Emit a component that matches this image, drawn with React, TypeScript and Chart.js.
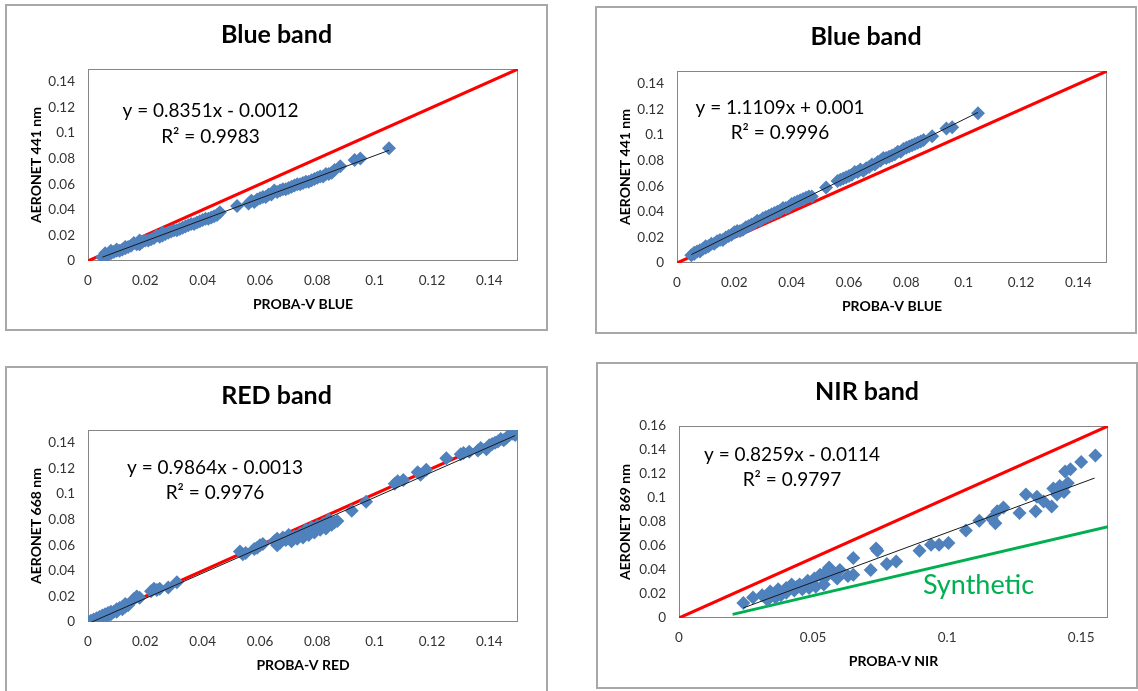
import React, { useEffect, useRef } from 'react';
import { Chart, registerables } from 'chart.js';
Chart.register(...registerables);

// ---------------- DATA ----------------
const panelTitles = ['Blue band', 'Blue band', 'RED band', 'NIR band'];
const yAxisTitles = ['AERONET 441 nm', 'AERONET 441 nm', 'AERONET 668 nm', 'AERONET 869 nm'];
const xAxisTitles = ['PROBA-V BLUE', 'PROBA-V BLUE', 'PROBA-V RED', 'PROBA-V NIR'];
const equationLines = [
  ['y = 0.8351x - 0.0012', 'R² = 0.9983'],
  ['y = 1.1109x + 0.001', 'R² = 0.9996'],
  ['y = 0.9864x - 0.0013', 'R² = 0.9976'],
  ['y = 0.8259x - 0.0114', 'R² = 0.9797'],
];
const axisMax = [0.15, 0.15, 0.15, 0.16];
const xStep = [0.02, 0.02, 0.02, 0.05];
const yStep = [0.02, 0.02, 0.02, 0.02];

// trend line: slope, intercept, x range
const fitSlope = [0.8351, 1.1109, 0.9864, 0.8259];
const fitIntercept = [-0.0012, 0.001, -0.0013, -0.0114];
const fitXMin = [0.005, 0.005, 0.001, 0.024];
const fitXMax = [0.105, 0.105, 0.149, 0.155];

const blue1Points = [
  [0.005, 0.003], [0.006, 0.004], [0.006, 0.006], [0.007, 0.005], [0.008, 0.006], [0.008, 0.008], [0.009, 0.007],
  [0.010, 0.008], [0.010, 0.009], [0.011, 0.008], [0.012, 0.009], [0.013, 0.011], [0.013, 0.010], [0.014, 0.011],
  [0.015, 0.012], [0.016, 0.014], [0.017, 0.013], [0.018, 0.013], [0.018, 0.016], [0.019, 0.015], [0.020, 0.016],
  [0.021, 0.016], [0.022, 0.017], [0.023, 0.018], [0.024, 0.020], [0.025, 0.019], [0.026, 0.022], [0.026, 0.020],
  [0.027, 0.021], [0.028, 0.022], [0.029, 0.023], [0.030, 0.024], [0.031, 0.024], [0.032, 0.025], [0.033, 0.026],
  [0.034, 0.027], [0.035, 0.028], [0.036, 0.029], [0.037, 0.029], [0.038, 0.030], [0.039, 0.031], [0.040, 0.032],
  [0.041, 0.033], [0.042, 0.033], [0.043, 0.034], [0.044, 0.035], [0.045, 0.036], [0.046, 0.038], [0.052, 0.043],
  [0.056, 0.045], [0.057, 0.047], [0.058, 0.046], [0.059, 0.048], [0.060, 0.049], [0.061, 0.050], [0.062, 0.050],
  [0.063, 0.052], [0.064, 0.052], [0.065, 0.055], [0.066, 0.054], [0.067, 0.055], [0.068, 0.056], [0.069, 0.056],
  [0.070, 0.057], [0.071, 0.058], [0.072, 0.059], [0.073, 0.060], [0.074, 0.060], [0.075, 0.061], [0.076, 0.062],
  [0.077, 0.062], [0.078, 0.063], [0.079, 0.064], [0.080, 0.065], [0.081, 0.066], [0.082, 0.066], [0.083, 0.068],
  [0.084, 0.068], [0.085, 0.069], [0.086, 0.071], [0.088, 0.074], [0.093, 0.079], [0.095, 0.080], [0.105, 0.088],
];

const blue2Points = [
  [0.005, 0.006], [0.006, 0.008], [0.006, 0.007], [0.007, 0.009], [0.008, 0.009], [0.008, 0.010], [0.009, 0.011],
  [0.010, 0.012], [0.010, 0.013], [0.011, 0.013], [0.012, 0.015], [0.013, 0.015], [0.014, 0.017], [0.015, 0.018],
  [0.016, 0.018], [0.017, 0.020], [0.018, 0.021], [0.019, 0.022], [0.020, 0.024], [0.021, 0.025], [0.022, 0.025],
  [0.023, 0.026], [0.024, 0.028], [0.025, 0.029], [0.026, 0.030], [0.027, 0.031], [0.028, 0.033], [0.029, 0.033],
  [0.030, 0.035], [0.031, 0.036], [0.032, 0.037], [0.033, 0.038], [0.034, 0.039], [0.035, 0.040], [0.036, 0.041],
  [0.037, 0.043], [0.038, 0.043], [0.039, 0.044], [0.040, 0.046], [0.041, 0.047], [0.042, 0.048], [0.043, 0.049],
  [0.044, 0.050], [0.045, 0.051], [0.046, 0.052], [0.047, 0.052], [0.052, 0.059], [0.056, 0.064], [0.057, 0.065],
  [0.058, 0.066], [0.059, 0.067], [0.060, 0.068], [0.061, 0.069], [0.062, 0.071], [0.063, 0.071], [0.064, 0.073],
  [0.065, 0.072], [0.066, 0.074], [0.067, 0.075], [0.068, 0.077], [0.069, 0.077], [0.070, 0.079], [0.071, 0.080],
  [0.072, 0.082], [0.073, 0.082], [0.074, 0.083], [0.075, 0.084], [0.076, 0.085], [0.077, 0.087], [0.078, 0.087],
  [0.079, 0.089], [0.080, 0.090], [0.081, 0.091], [0.082, 0.092], [0.083, 0.093], [0.084, 0.094], [0.085, 0.095],
  [0.086, 0.096], [0.089, 0.099], [0.094, 0.105], [0.096, 0.106], [0.105, 0.117],
];

const redPoints = [
  [0.001, 0.001], [0.002, 0.002], [0.002, 0.000], [0.003, 0.003], [0.003, 0.001], [0.004, 0.004], [0.004, 0.002],
  [0.005, 0.005], [0.005, 0.003], [0.006, 0.006], [0.006, 0.004], [0.007, 0.007], [0.007, 0.005], [0.008, 0.008],
  [0.008, 0.006], [0.009, 0.008], [0.010, 0.010], [0.010, 0.008], [0.011, 0.011], [0.012, 0.012], [0.012, 0.010],
  [0.013, 0.014], [0.013, 0.012], [0.014, 0.013], [0.016, 0.018], [0.017, 0.020], [0.018, 0.019], [0.022, 0.024],
  [0.023, 0.026], [0.024, 0.025], [0.025, 0.026], [0.028, 0.027], [0.031, 0.031], [0.053, 0.055], [0.054, 0.053],
  [0.055, 0.054], [0.058, 0.057], [0.059, 0.058], [0.060, 0.060], [0.061, 0.061], [0.065, 0.063], [0.066, 0.060],
  [0.066, 0.065], [0.067, 0.062], [0.068, 0.066], [0.069, 0.064], [0.070, 0.068], [0.071, 0.063], [0.072, 0.067],
  [0.073, 0.065], [0.074, 0.069], [0.075, 0.066], [0.076, 0.072], [0.077, 0.068], [0.078, 0.074], [0.079, 0.070],
  [0.080, 0.075], [0.081, 0.072], [0.082, 0.077], [0.083, 0.073], [0.084, 0.080], [0.085, 0.076], [0.086, 0.078],
  [0.087, 0.079], [0.092, 0.087], [0.097, 0.094], [0.107, 0.108], [0.108, 0.110], [0.110, 0.111], [0.115, 0.117],
  [0.116, 0.115], [0.118, 0.119], [0.125, 0.128], [0.130, 0.131], [0.131, 0.132], [0.133, 0.133], [0.136, 0.134],
  [0.137, 0.136], [0.139, 0.135], [0.140, 0.138], [0.141, 0.139], [0.142, 0.140], [0.143, 0.141], [0.144, 0.143],
  [0.145, 0.142], [0.146, 0.144], [0.147, 0.146], [0.148, 0.147], [0.149, 0.146],
];

const nirPoints = [
  [0.024, 0.0125], [0.0276, 0.017], [0.031, 0.019], [0.033, 0.015], [0.034, 0.022], [0.036, 0.017], [0.037, 0.024],
  [0.038, 0.019], [0.039, 0.022], [0.040, 0.025], [0.040, 0.021], [0.042, 0.028], [0.043, 0.023], [0.044, 0.026],
  [0.045, 0.028], [0.046, 0.024], [0.048, 0.031], [0.0485, 0.025], [0.049, 0.0285], [0.0505, 0.033], [0.051, 0.026],
  [0.0526, 0.036], [0.0546, 0.034], [0.054, 0.028], [0.055, 0.039], [0.056, 0.042], [0.057, 0.0375], [0.059, 0.033],
  [0.060, 0.040], [0.063, 0.035], [0.065, 0.050], [0.065, 0.036], [0.0715, 0.040], [0.0735, 0.058], [0.074, 0.056],
  [0.0775, 0.045], [0.081, 0.047], [0.0897, 0.056], [0.094, 0.061], [0.097, 0.061], [0.1005, 0.0625], [0.107, 0.073],
  [0.112, 0.081], [0.1166, 0.083], [0.118, 0.079], [0.1187, 0.089], [0.121, 0.092], [0.127, 0.0875], [0.1294, 0.103],
  [0.133, 0.089], [0.1335, 0.101], [0.136, 0.097], [0.139, 0.093], [0.1396, 0.108], [0.141, 0.103], [0.142, 0.110],
  [0.1436, 0.105], [0.144, 0.122], [0.145, 0.1125], [0.146, 0.124], [0.150, 0.130], [0.1553, 0.1355],
];

const syntheticLine = [[0.02, 0.003], [0.16, 0.076]];

const pointSets = [blue1Points, blue2Points, redPoints, nirPoints];

// ---------------- LAYOUT (page pixels) ----------------
const layouts = [
  { box: [5, 4, 543, 327], plot: [88, 69, 518, 261], titleY: 43, eqX: 210.5, eqY: [117, 143], yTitleX: 36, xTitleY: 304 },
  { box: [595, 6, 542, 328], plot: [677, 71, 1107, 263], titleY: 45, eqX: 780, eqY: [114, 139], yTitleX: 625, xTitleY: 306 },
  { box: [5, 366, 543, 340], plot: [88, 430, 518, 622], titleY: 404, eqX: 215, eqY: [474, 499], yTitleX: 36, xTitleY: 665 },
  { box: [596, 362, 542, 327], plot: [679, 426, 1108, 618], titleY: 400, eqX: 792, eqY: [461, 486], yTitleX: 625, xTitleY: 661, synth: [978.5, 594] },
];

const FONT = "Lato, 'Open Sans', sans-serif";
const TICK_COLOR = '#333333';
const BLUE = '#4f81bd';

const fmt = (v: number) => String(Number(Number(v).toFixed(3)));

function Panel({ idx }: { idx: number }) {
  const ref = useRef<HTMLCanvasElement>(null);
  const L = layouts[idx];
  const [bx, by, bw, bh] = L.box;

  useEffect(() => {
    const canvas = ref.current;
    if (!canvas) return;
    const [pl, pt, pr, pb] = L.plot;
    const max = axisMax[idx];
    const pts = pointSets[idx].map(([x, y]) => ({ x, y }));
    const trend = [fitXMin[idx], fitXMax[idx]].map((x) => ({ x, y: fitSlope[idx] * x + fitIntercept[idx] }));
    const oneToOne = [{ x: 0, y: 0 }, { x: max, y: max }];

    const datasets: any[] = [
      { label: 'trend', data: trend, showLine: true, borderColor: '#1a1a1a', borderWidth: 1, pointRadius: 0, fill: false },
      {
        label: 'obs', data: pts, pointStyle: 'rectRot', pointRadius: 7, pointHoverRadius: 7,
        backgroundColor: BLUE, borderColor: BLUE, borderWidth: 0, showLine: false,
      },
      { label: '1:1', data: oneToOne, showLine: true, borderColor: '#ff0000', borderWidth: 3, pointRadius: 0, fill: false },
    ];
    if (L.synth) {
      datasets.push({
        label: 'Synthetic', data: syntheticLine.map(([x, y]) => ({ x, y })), showLine: true,
        borderColor: '#00b050', borderWidth: 3, pointRadius: 0, fill: false,
      });
    }

    const decor = {
      id: 'decor' + idx,
      beforeDatasetsDraw(chart: any) {
        const { ctx, chartArea } = chart;
        const { left, top, right, bottom } = chartArea;
        ctx.save();
        ctx.strokeStyle = '#868686';
        ctx.lineWidth = 1;
        ctx.strokeRect(Math.round(left) + 0.5, Math.round(top) + 0.5, Math.round(right - left) - 1, Math.round(bottom - top) - 1);
        ctx.restore();
      },
      afterDraw(chart: any) {
        const ctx = chart.ctx;
        ctx.save();
        ctx.fillStyle = '#000';
        ctx.textAlign = 'center';
        ctx.textBaseline = 'alphabetic';
        ctx.font = `bold 25px ${FONT}`;
        ctx.fillText(panelTitles[idx], bw / 2, L.titleY - by);
        ctx.font = `19px ${FONT}`;
        ctx.fillText(equationLines[idx][0], L.eqX - bx, L.eqY[0] - by);
        ctx.fillText(equationLines[idx][1], L.eqX - bx, L.eqY[1] - by);
        if (L.synth) {
          ctx.fillStyle = '#00b050';
          ctx.font = `27px ${FONT}`;
          ctx.fillText('Synthetic', L.synth[0] - bx, L.synth[1] - by);
        }
        ctx.restore();
      },
    };

    const yW = pl - bx;
    const xH = by + bh - pb;
    const lh = 14 * 1.2;

    const chart = new Chart(canvas, {
      type: 'scatter',
      data: { datasets },
      options: {
        animation: false,
        responsive: false,
        events: [],
        layout: { padding: { left: 0, top: pt - by, right: bx + bw - pr, bottom: 0 } },
        plugins: { legend: { display: false }, tooltip: { enabled: false }, title: { display: false } },
        scales: {
          x: {
            type: 'linear', min: 0, max,
            grid: { display: false, drawTicks: false },
            border: { display: false },
            ticks: { stepSize: xStep[idx], includeBounds: false, padding: 12, color: TICK_COLOR, font: { family: FONT, size: 13.5 }, callback: (v: any) => fmt(v), maxRotation: 0 },
            title: {
              display: true, text: xAxisTitles[idx], color: '#000',
              font: { family: FONT, size: 14, weight: 'bold' },
              padding: { top: 0, bottom: (by + bh - L.xTitleY) - lh / 2 },
            },
            afterFit: (s: any) => { s.height = xH; },
          },
          y: {
            type: 'linear', min: 0, max,
            grid: { display: false, drawTicks: false },
            border: { display: false },
            ticks: { stepSize: yStep[idx], includeBounds: false, padding: 13, color: TICK_COLOR, font: { family: FONT, size: 13.5 }, callback: (v: any) => fmt(v) },
            title: {
              display: true, text: yAxisTitles[idx], color: '#000',
              font: { family: FONT, size: 14, weight: 'bold' },
              padding: { top: (L.yTitleX - bx) - lh / 2, bottom: 0 },
            },
            afterFit: (s: any) => { s.width = yW; },
          },
        },
      } as any,
      plugins: [decor],
    });
    return () => chart.destroy();
  }, []);

  return (
    <>
      <canvas ref={ref} width={bw} height={bh} style={{ position: 'absolute', left: bx, top: by, width: bw, height: bh }} />
      <div style={{ position: 'absolute', left: bx, top: by, width: bw, height: bh, border: '2px solid #a8a8a8', boxSizing: 'border-box', pointerEvents: 'none' }} />
    </>
  );
}

export default function App() {
  return (
    <div style={{ position: 'absolute', left: 0, top: 0, width: 1138, height: 691, overflow: 'hidden', background: '#fff' }}>
      {[0, 1, 2, 3].map((i) => (
        <Panel key={i} idx={i} />
      ))}
    </div>
  );
}
